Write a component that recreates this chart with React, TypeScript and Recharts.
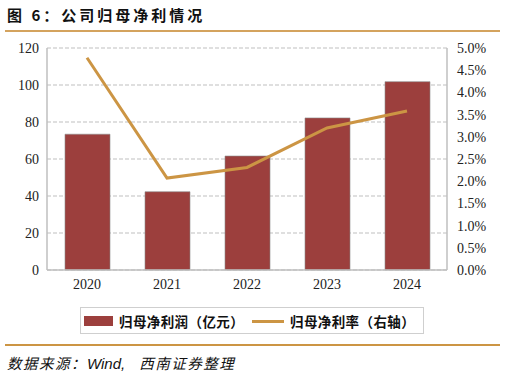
import React from 'react';
import { ComposedChart, Bar, Line, XAxis, YAxis, CartesianGrid } from 'recharts';

const years = ['2020', '2021', '2022', '2023', '2024'];
const netProfit = [73.4, 42.3, 61.6, 82.2, 101.8];
const netMargin = [4.78, 2.07, 2.31, 3.2, 3.58];
const leftTicks = [0, 20, 40, 60, 80, 100, 120];
const rightTicks = [0, 0.5, 1, 1.5, 2, 2.5, 3, 3.5, 4, 4.5, 5];
const boundaryTicks = [1, 2, 3, 4];

const title = '图 6：公司归母净利情况';
const barName = '归母净利润（亿元）';
const lineName = '归母净利率（右轴）';
const sourceA = '数据来源：';
const sourceB = 'Wind,';
const sourceC = '西南证券整理';

const data = years.map((y, i) => ({ year: y, profit: netProfit[i], margin: netMargin[i] }));

const BAR = '#9C3F3D';
const LINE = '#CC9544';
const AXIS = '#bfbfbf';
const serif = '"Liberation Serif", "Times New Roman", serif';
const cjk = '"Noto Sans CJK SC", sans-serif';

const makeTick = (dy: string, fmt?: (v: number) => string) => (props: any) => {
  const { x, y, textAnchor, payload } = props;
  const v = payload.value;
  return (
    <text x={x} y={y} dy={dy} textAnchor={textAnchor} style={{ fontFamily: serif, fontSize: 14, fill: '#222' }}>
      {fmt ? fmt(v) : v}
    </text>
  );
};

export default function App() {
  return (
    <div style={{ position: 'absolute', left: 0, top: 0, width: 506, height: 378, background: '#fff', overflow: 'hidden' }}>
      <div style={{ position: 'absolute', left: 7, top: 5, fontFamily: cjk, fontWeight: 700, fontSize: 15, letterSpacing: 3, lineHeight: '20px', color: '#111', whiteSpace: 'nowrap' }}>{title}</div>
      <div style={{ position: 'absolute', left: 5, top: 30, width: 495, height: 2, background: '#D4A35E' }} />
      <div style={{ position: 'absolute', left: 0, top: 0 }}>
        <ComposedChart width={506} height={300} data={data} margin={{ top: 48, right: 0, left: 0, bottom: 0 }}>
          <CartesianGrid vertical={false} stroke={AXIS} strokeDasharray="4 2" strokeWidth={1.2} />
          <XAxis dataKey="year" xAxisId={0} height={30} interval={0} tickLine={false} tickSize={0} tickMargin={9} axisLine={{ stroke: AXIS, strokeWidth: 1.5 }} tick={makeTick('0.71em')} />
          <XAxis xAxisId="b" type="number" domain={[0, years.length]} ticks={boundaryTicks} interval={0} allowDataOverflow mirror height={6} tick={false} tickSize={6} axisLine={false} tickLine={{ stroke: AXIS, strokeWidth: 1.5 }} />
          <YAxis yAxisId={0} width={47} domain={[0, 120]} ticks={leftTicks} interval={0} tickLine={false} tickSize={0} tickMargin={8} axisLine={{ stroke: AXIS, strokeWidth: 1.5 }} tick={makeTick('0.355em')} />
          <YAxis yAxisId="r" orientation="right" width={59} domain={[0, 5]} ticks={rightTicks} interval={0} tickLine={false} tickSize={0} tickMargin={10} axisLine={{ stroke: AXIS, strokeWidth: 1.5 }} tick={makeTick('0.355em', (v: number) => v.toFixed(1) + '%')} />
          <YAxis yAxisId="r2" orientation="right" mirror width={6} domain={[0, 5]} ticks={rightTicks} interval={0} tick={false} tickSize={5} axisLine={false} tickLine={{ stroke: AXIS, strokeWidth: 1.5 }} />
          <Bar dataKey="profit" yAxisId={0} xAxisId={0} barSize={45} fill={BAR} stroke="#8c8c8c" strokeWidth={0.6} isAnimationActive={false} />
          <Line dataKey="margin" yAxisId="r" xAxisId={0} type="linear" stroke={LINE} strokeWidth={3} dot={false} activeDot={false} isAnimationActive={false} />
        </ComposedChart>
      </div>
      <div style={{ position: 'absolute', left: 80, top: 307, width: 344, height: 27, border: '1px solid #cfcfcf', boxSizing: 'border-box' }} />
      <div style={{ position: 'absolute', left: 84, top: 316, width: 29, height: 10, background: BAR }} />
      <div style={{ position: 'absolute', left: 119, top: 311, fontFamily: cjk, fontSize: 13.5, letterSpacing: 0.4, lineHeight: '20px', fontWeight: 700, color: '#111', whiteSpace: 'nowrap' }}>{barName}</div>
      <div style={{ position: 'absolute', left: 252, top: 320, width: 32, height: 3, background: LINE }} />
      <div style={{ position: 'absolute', left: 290, top: 311, fontFamily: cjk, fontSize: 13.5, letterSpacing: 0.4, lineHeight: '20px', fontWeight: 700, color: '#111', whiteSpace: 'nowrap' }}>{lineName}</div>
      <div style={{ position: 'absolute', left: 5, top: 344, width: 495, height: 2, background: LINE }} />
      <div style={{ position: 'absolute', left: 7, top: 353, fontFamily: cjk, fontStyle: 'italic', fontSize: 14.5, letterSpacing: 1.5, lineHeight: '20px', color: '#111', whiteSpace: 'nowrap' }}>
        {sourceA}
        <span style={{ fontFamily: '"Liberation Sans", Arial, sans-serif', letterSpacing: 0, fontSize: 15 }}>{sourceB}</span>
        <span style={{ marginLeft: 14 }}>{sourceC}</span>
      </div>
    </div>
  );
}
